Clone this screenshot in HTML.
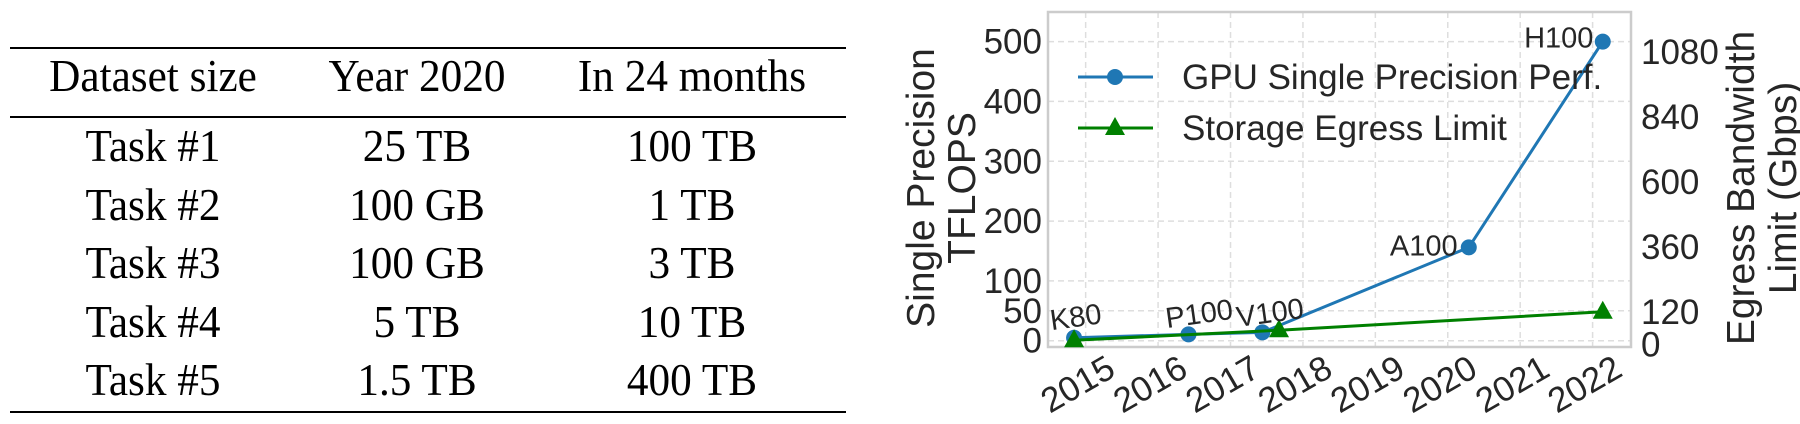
<!DOCTYPE html>
<html><head><meta charset="utf-8"><style>
html,body{margin:0;padding:0;background:#fff;}
body{width:1800px;height:424px;position:relative;overflow:hidden;}
.tbl{position:absolute;left:0;top:0;width:880px;height:424px;font-family:"Liberation Serif",serif;font-size:46px;color:#000;}
.rule{position:absolute;left:10px;width:836px;background:#000;}
.cell{position:absolute;transform:translateX(-50%) scaleX(0.94);white-space:nowrap;line-height:1;}
svg text{font-family:"Liberation Sans",sans-serif;fill:#262626;}
</style></head><body>
<div class="tbl">
  <div class="rule" style="top:47px;height:2px"></div>
  <div class="rule" style="top:116px;height:2px"></div>
  <div class="rule" style="top:411px;height:2px"></div>
  <div id="cells"></div>
</div>
<svg id="chart" width="1800" height="424" style="position:absolute;left:0;top:0"></svg>
<script>
const headers=["Dataset size","Year 2020","In 24 months"];
const rows=[["Task #1","25 TB","100 TB"],["Task #2","100 GB","1 TB"],["Task #3","100 GB","3 TB"],["Task #4","5 TB","10 TB"],["Task #5","1.5 TB","400 TB"]];
const colX=[153,417,692];
const cells=document.getElementById('cells');
function addCell(txt,x,base,name){const d=document.createElement('div');d.className='cell';d.textContent=txt;d.style.left=x+'px';d.style.top=(base-36)+'px';


cells.appendChild(d);}
headers.forEach((h,i)=>addCell(h,colX[i],89,'header-cell'));
rows.forEach((r,j)=>r.forEach((c,i)=>addCell(c,colX[i],159+j*58.5,'table-cell')));

// chart data
const gpuNames=["K80","P100","V100","A100","H100"];
const gpuYears=[2014.84,2016.42,2017.44,2020.29,2022.14];
const gpuTflops=[5,10.6,14,156,500];
const egressYears=[2014.84,2017.67,2022.14];
const egressGbps=[15,52,120];
const leftTicks=[0,50,100,200,300,400,500];
const rightTicks=[0,120,360,600,840,1080];
const xTicks=[2015,2016,2017,2018,2019,2020,2021,2022];

const L=1048,R=1631,T=12,B=347;
const xr=[2014.48,2022.53],yl=[-10.5,549.5],yr=[-10,1227];
const X=v=>L+(v-xr[0])/(xr[1]-xr[0])*(R-L);
const YL=v=>B-(v-yl[0])/(yl[1]-yl[0])*(B-T);
const YR=v=>B-(v-yr[0])/(yr[1]-yr[0])*(B-T);
const svg=document.getElementById('chart');const NS='http://www.w3.org/2000/svg';
function mk(tag,attrs,name,txt){const e=document.createElementNS(NS,tag);for(const k in attrs)e.setAttribute(k,attrs[k]);


if(txt!==undefined)e.textContent=txt;svg.appendChild(e);return e;}
// grid
xTicks.forEach(t=>mk('line',{x1:X(t),x2:X(t),y1:T,y2:B,stroke:'#dedede','stroke-width':1.5,'stroke-dasharray':'6,4'},'x-grid-line'));
leftTicks.forEach(t=>mk('line',{x1:L,x2:R,y1:YL(t),y2:YL(t),stroke:'#dedede','stroke-width':1.5,'stroke-dasharray':'6,4'},'y-grid-line'));
mk('rect',{x:L,y:T,width:R-L,height:B-T,fill:'none',stroke:'#cccccc','stroke-width':2.5},'plot-frame');
// ticks
leftTicks.forEach(t=>mk('text',{x:1042,y:YL(t)+12,'font-size':35,'text-anchor':'end'},'left-tick-label',t));
rightTicks.forEach(t=>mk('text',{x:1641,y:YR(t)+12,'font-size':35,'text-anchor':'start'},'right-tick-label',t));
xTicks.forEach(t=>{const cx=X(t)-8,cy=B+37;mk('text',{x:cx,y:cy+12,'font-size':35,'text-anchor':'middle',transform:`rotate(-30 ${cx} ${cy})`},'x-tick-label',t);});
// axis titles
mk('text',{x:934,y:188,'font-size':39,'text-anchor':'middle',transform:'rotate(-90 934 188)'},'y-axis-title-left-line1','Single Precision');
mk('text',{x:975,y:188,'font-size':39,'text-anchor':'middle',transform:'rotate(-90 975 188)'},'y-axis-title-left-line2','TFLOPS');
mk('text',{x:1754,y:188,'font-size':39,'text-anchor':'middle',transform:'rotate(-90 1754 188)'},'y-axis-title-right-line1','Egress Bandwidth');
mk('text',{x:1796,y:188,'font-size':39,'text-anchor':'middle',transform:'rotate(-90 1796 188)'},'y-axis-title-right-line2','Limit (Gbps)');
// series
mk('polyline',{points:gpuYears.map((y,i)=>X(y)+','+YL(gpuTflops[i])).join(' '),fill:'none',stroke:'#1f77b4','stroke-width':3},'gpu-line');
gpuYears.forEach((y,i)=>mk('circle',{cx:X(y),cy:YL(gpuTflops[i]),r:8,fill:'#1f77b4'},'gpu-point'));
mk('polyline',{points:egressYears.map((y,i)=>X(y)+','+YR(egressGbps[i])).join(' '),fill:'none',stroke:'#008000','stroke-width':3},'egress-line');
egressYears.forEach((y,i)=>{const cx=X(y),cy=YR(egressGbps[i]);mk('polygon',{points:`${cx},${cy-11} ${cx-10},${cy+7} ${cx+10},${cy+7}`,fill:'#008000'},'egress-point');});
// point labels
const lblOff=[[3,-11,-8],[12,-11,-8],[9,-10,-8],[-45,8,0],[-44,6,0]];
gpuYears.forEach((y,i)=>{const x=X(y)+lblOff[i][0],yy=YL(gpuTflops[i])+lblOff[i][1];mk('text',{x:x,y:yy,'font-size':29,'text-anchor':'middle',transform:`rotate(${lblOff[i][2]} ${x} ${yy})`},'gpu-label',gpuNames[i]);});
// legend
mk('line',{x1:1078,x2:1153,y1:77,y2:77,stroke:'#1f77b4','stroke-width':3},'legend-gpu-line');
mk('circle',{cx:1115,cy:77,r:8,fill:'#1f77b4'},'legend-gpu-marker');
mk('text',{x:1182,y:89,'font-size':35},'legend-gpu-text','GPU Single Precision Perf.');
mk('line',{x1:1078,x2:1153,y1:128,y2:128,stroke:'#008000','stroke-width':3},'legend-egress-line');
mk('polygon',{points:'1115,117 1105,135 1125,135',fill:'#008000'},'legend-egress-marker');
mk('text',{x:1182,y:140,'font-size':35},'legend-egress-text','Storage Egress Limit');
</script>
</body></html>
